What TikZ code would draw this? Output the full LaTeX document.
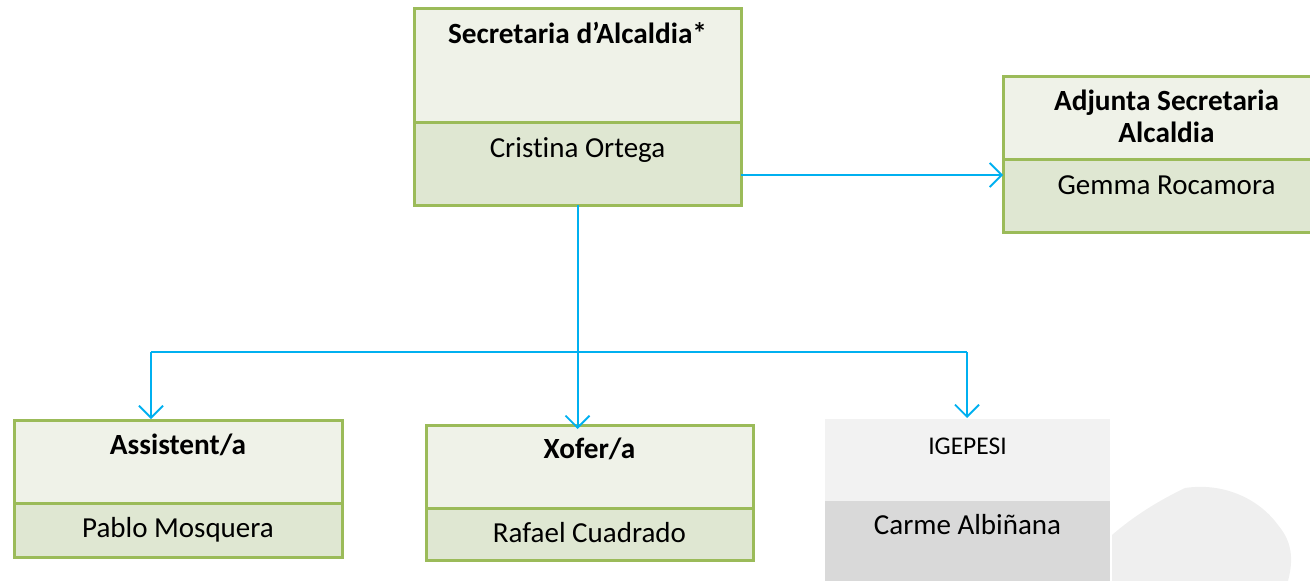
\documentclass[tikz,border=0pt]{standalone}
\usepackage{fontspec}
\setmainfont{Carlito}[Ligatures=NoCommon]
\usetikzlibrary{arrows.meta}
\definecolor{bordergreen}{HTML}{9BBB59}
\definecolor{topfill}{HTML}{EFF2E8}
\definecolor{botfill}{HTML}{DFE7D2}
\definecolor{conncol}{HTML}{00B0F0}
\definecolor{greytop}{HTML}{F2F2F2}
\definecolor{greybot}{HTML}{D9D9D9}
\definecolor{blobcol}{HTML}{EFEFEF}
\tikzset{
  topsec/.style={draw=bordergreen, line width=3pt, fill=topfill, anchor=north west, inner sep=0pt, outer sep=0pt},
  botsec/.style={draw=bordergreen, line width=3pt, fill=botfill, anchor=north west, inner sep=0pt, outer sep=0pt},
  gtopsec/.style={fill=greytop, anchor=north west, inner sep=0pt, outer sep=0pt},
  gbotsec/.style={fill=greybot, anchor=north west, inner sep=0pt, outer sep=0pt},
  titletxt/.style={anchor=base, inner sep=0pt, font=\fontsize{29.3}{34}\selectfont\bfseries},
  nametxt/.style={anchor=base, inner sep=0pt, font=\fontsize{29}{34}\selectfont},
  smalltxt/.style={anchor=base, inner sep=0pt, font=\fontsize{25.5}{30}\selectfont},
  conn/.style={draw=conncol, line width=2pt},
  arr/.style={conn, -{Straight Barb[length=12pt,width=24pt,line width=1.8pt]}}
}
\begin{document}
\begin{tikzpicture}[x=1pt,y=-1pt]
\useasboundingbox (0,0) rectangle (1310,581);
% faint background blob
\fill[blobcol] (1112,581) -- (1112,535) .. controls (1135,515) and (1160,500) .. (1185,488)
  .. controls (1225,482) and (1260,500) .. (1278,525)
  .. controls (1295,545) and (1292,565) .. (1288,581) -- cycle;

% Secretaria d'Alcaldia
\node[topsec, minimum width=327pt, minimum height=114pt] (secT) at (414,8) {};
\node[botsec, minimum width=327pt, minimum height=83pt] (secB) at (secT.south west) {};
\node[titletxt] (secTitle) at (577.5,43) {Secretaria d’Alcaldia*};
\node[nametxt] (secName) at (577.5,157) {Cristina Ortega};

% Adjunta Secretaria Alcaldia
\node[topsec, minimum width=327pt, minimum height=83pt] (adjT) at (1003,76) {};
\node[botsec, minimum width=327pt, minimum height=73pt] (adjB) at (adjT.south west) {};
\node[titletxt] (adjTitleA) at (1166.5,110) {Adjunta Secretaria};
\node[titletxt] (adjTitleB) at (1166.5,142) {Alcaldia};
\node[nametxt] (adjName) at (1166.5,194) {Gemma Rocamora};

% Assistent/a
\node[topsec, minimum width=328pt, minimum height=83pt] (assT) at (14,420) {};
\node[botsec, minimum width=328pt, minimum height=54pt] (assB) at (assT.south west) {};
\node[titletxt] (assTitle) at (178,454) {Assistent/a};
\node[nametxt] (assName) at (178,537) {Pablo Mosquera};

% Xofer/a
\node[topsec, minimum width=327pt, minimum height=83pt] (xofT) at (426,425) {};
\node[botsec, minimum width=327pt, minimum height=52pt] (xofB) at (xofT.south west) {};
\node[titletxt] (xofTitle) at (589.5,458) {Xofer/a};
\node[nametxt] (xofName) at (589.5,542) {Rafael Cuadrado};

% IGEPESI
\node[gtopsec, minimum width=285pt, minimum height=82pt] (igT) at (825,419) {};
\node[gbotsec, minimum width=285pt, minimum height=90pt] (igB) at (igT.south west) {};
\node[smalltxt] (igTitle) at (967.5,454) {IGEPESI};
\node[nametxt] (igName) at (967.5,534) {Carme Albiñana};

% connectors
\coordinate (side) at (0,175);
\coordinate (bus) at (0,352);
\coordinate (bA) at (151,352);
\coordinate (bX) at (secB.south |- bus);
\coordinate (bI) at (967,352);
\draw[arr] (secB.east |- side) -- (adjB.west |- side);
\draw[conn] (secB.south) -- (bX);
\draw[conn] (bA) -- (bI);
\draw[arr] (bA) -- ([yshift=1pt]bA |- assT.north);
\draw[arr] (bX) -- ([yshift=-4pt]bX |- xofT.north);
\draw[arr] (bI) -- ([yshift=1pt]bI |- igT.north);
\end{tikzpicture}
\end{document}
